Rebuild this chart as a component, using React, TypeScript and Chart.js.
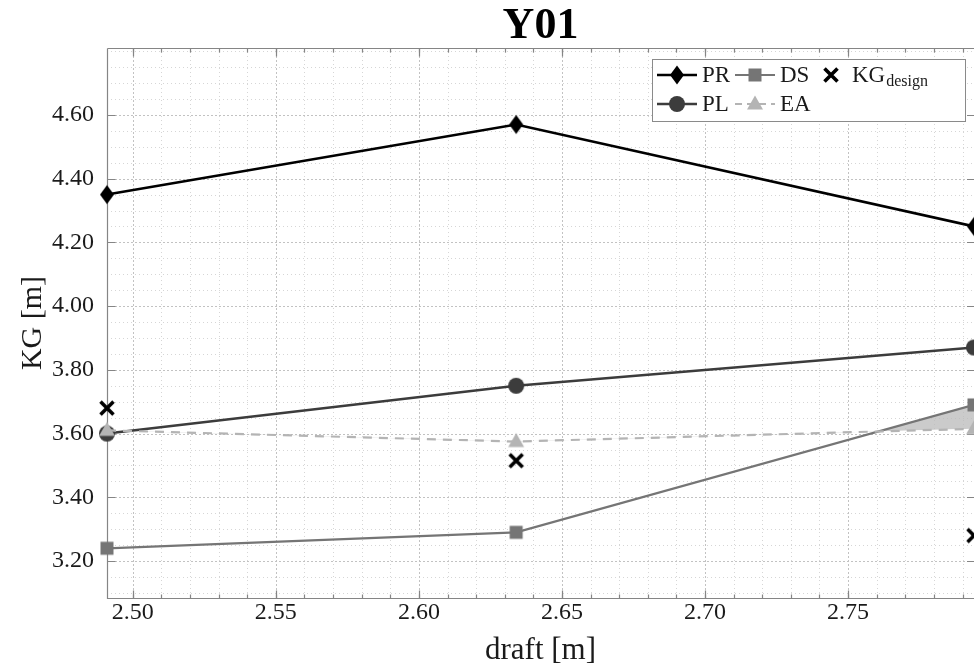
import React, { useEffect, useRef } from 'react';
import { Chart, registerables } from 'chart.js';

Chart.register(...registerables);

// ---------------- data ----------------
const draft = [2.491, 2.634, 2.794];
const PR = [4.35, 4.57, 4.25];
const PL = [3.6, 3.75, 3.87];
const DS = [3.24, 3.29, 3.69];
const EA = [3.61, 3.575, 3.615];
const KGdesign = [3.68, 3.515, 3.28];

const xTicks = [2.5, 2.55, 2.6, 2.65, 2.7, 2.75];
const yTicks = [3.2, 3.4, 3.6, 3.8, 4.0, 4.2, 4.4, 4.6];
const yMin = 3.084;
const yMax = 4.81;
const xMinorStep = 0.01;
const yMinorStep = 0.05;

const chartTitle = 'Y01';
const xTitle = 'draft [m]';
const yTitle = 'KG [m]';

// ---------------- styles ----------------
const FONT = "'Liberation Serif', 'Times New Roman', serif";
const TEXT = '#1a1a1a';

type Kind = 'diamond' | 'circle' | 'square' | 'triangle' | 'cross';

const seriesStyle = [
  { key: 'PR', data: PR, color: '#000000', marker: 'diamond' as Kind, width: 2.6, dash: [] as number[], order: 1, line: true },
  { key: 'PL', data: PL, color: '#3c3c3c', marker: 'circle' as Kind, width: 2.6, dash: [], order: 3, line: true },
  { key: 'DS', data: DS, color: '#757575', marker: 'square' as Kind, width: 2.2, dash: [], order: 4, line: true },
  { key: 'EA', data: EA, color: '#b4b4b4', marker: 'triangle' as Kind, width: 2.2, dash: [9, 7], order: 2, line: true },
  { key: 'KG', data: KGdesign, color: '#000000', marker: 'cross' as Kind, width: 0, dash: [], order: 0, line: false },
];

function drawMarker(ctx: CanvasRenderingContext2D, kind: Kind, x: number, y: number, color: string) {
  ctx.save();
  ctx.fillStyle = color;
  ctx.strokeStyle = color;
  ctx.setLineDash([]);
  ctx.beginPath();
  if (kind === 'diamond') {
    ctx.moveTo(x, y - 9.5);
    ctx.lineTo(x + 7, y);
    ctx.lineTo(x, y + 9.5);
    ctx.lineTo(x - 7, y);
    ctx.closePath();
    ctx.fill();
  } else if (kind === 'circle') {
    ctx.arc(x, y, 8, 0, Math.PI * 2);
    ctx.fill();
  } else if (kind === 'square') {
    ctx.rect(x - 6.5, y - 6.5, 13, 13);
    ctx.fill();
  } else if (kind === 'triangle') {
    ctx.moveTo(x, y - 8.5);
    ctx.lineTo(x + 8, y + 5.5);
    ctx.lineTo(x - 8, y + 5.5);
    ctx.closePath();
    ctx.fill();
  } else {
    ctx.lineWidth = 3.6;
    ctx.lineCap = 'butt';
    ctx.moveTo(x - 6.5, y - 6.5);
    ctx.lineTo(x + 6.5, y + 6.5);
    ctx.moveTo(x + 6.5, y - 6.5);
    ctx.lineTo(x - 6.5, y + 6.5);
    ctx.stroke();
  }
  ctx.restore();
}

function markerCanvas(kind: Kind, color: string): HTMLCanvasElement {
  const c = document.createElement('canvas');
  c.width = 24;
  c.height = 24;
  const ctx = c.getContext('2d')!;
  drawMarker(ctx, kind, 12, 12, color);
  return c;
}

const framePlugin = {
  id: 'framePlugin',
  beforeDraw(chart: any) {
    const { ctx, chartArea: a, scales } = chart;
    const xs = scales.x;
    const ys = scales.y;
    ctx.save();
    ctx.fillStyle = '#ffffff';
    ctx.fillRect(0, 0, chart.width, chart.height);

    // minor grid
    ctx.lineWidth = 1;
    ctx.strokeStyle = '#d6d6d6';
    ctx.setLineDash([1, 3]);
    const x0 = Math.ceil(xs.min / xMinorStep - 1e-6);
    const x1 = Math.floor(xs.max / xMinorStep + 1e-6);
    for (let i = x0; i <= x1; i++) {
      const px = Math.round(xs.getPixelForValue(i * xMinorStep)) + 0.5;
      ctx.beginPath();
      ctx.moveTo(px, a.top);
      ctx.lineTo(px, a.bottom);
      ctx.stroke();
    }
    const y0 = Math.ceil(ys.min / yMinorStep - 1e-6);
    const y1 = Math.floor(ys.max / yMinorStep + 1e-6);
    for (let i = y0; i <= y1; i++) {
      const py = Math.round(ys.getPixelForValue(i * yMinorStep)) + 0.5;
      ctx.beginPath();
      ctx.moveTo(a.left, py);
      ctx.lineTo(a.right, py);
      ctx.stroke();
    }

    // major grid
    ctx.strokeStyle = '#c2c2c2';
    ctx.setLineDash([2, 2]);
    for (const v of xTicks) {
      const px = Math.round(xs.getPixelForValue(v)) + 0.5;
      ctx.beginPath();
      ctx.moveTo(px, a.top);
      ctx.lineTo(px, a.bottom);
      ctx.stroke();
    }
    for (const v of yTicks) {
      const py = Math.round(ys.getPixelForValue(v)) + 0.5;
      ctx.beginPath();
      ctx.moveTo(a.left, py);
      ctx.lineTo(a.right, py);
      ctx.stroke();
    }

    // box
    ctx.setLineDash([]);
    ctx.strokeStyle = '#858585';
    ctx.lineWidth = 1.2;
    const L = Math.round(a.left) + 0.5;
    const R = Math.round(a.right) - 0.5;
    const T = Math.round(a.top) + 0.5;
    const B = Math.round(a.bottom) + 0.5;
    ctx.beginPath();
    ctx.moveTo(L, T);
    ctx.lineTo(L, B);
    ctx.lineTo(R + 2, B);
    ctx.moveTo(L, T);
    ctx.lineTo(R + 2, T);
    ctx.stroke();

    // tick marks (inward)
    ctx.lineWidth = 1.2;
    for (const v of xTicks) {
      const px = Math.round(xs.getPixelForValue(v)) + 0.5;
      ctx.beginPath();
      ctx.moveTo(px, B);
      ctx.lineTo(px, B - 8);
      ctx.moveTo(px, T);
      ctx.lineTo(px, T + 8);
      ctx.stroke();
    }
    for (let i = x0; i <= x1; i++) {
      const px = Math.round(xs.getPixelForValue(i * xMinorStep)) + 0.5;
      ctx.beginPath();
      ctx.moveTo(px, B);
      ctx.lineTo(px, B - 4);
      ctx.moveTo(px, T);
      ctx.lineTo(px, T + 4);
      ctx.stroke();
    }
    for (const v of yTicks) {
      const py = Math.round(ys.getPixelForValue(v)) + 0.5;
      ctx.beginPath();
      ctx.moveTo(L, py);
      ctx.lineTo(L + 8, py);
      ctx.moveTo(a.right, py);
      ctx.lineTo(a.right - 7, py);
      ctx.stroke();
    }
    ctx.restore();
  },
  afterDraw(chart: any) {
    const { ctx, chartArea: a } = chart;
    ctx.save();
    // title
    ctx.fillStyle = '#000';
    ctx.font = `bold 44px ${FONT}`;
    ctx.textAlign = 'center';
    ctx.textBaseline = 'middle';
    ctx.fillText(chartTitle, (a.left + a.right) / 2, 27);

    // legend
    const bx = 652, by = 59, bw = 313, bh = 62;
    ctx.fillStyle = '#ffffff';
    ctx.fillRect(bx, by, bw, bh);
    ctx.strokeStyle = '#8a8a8a';
    ctx.lineWidth = 1;
    ctx.strokeRect(bx + 0.5, by + 0.5, bw, bh);

    const rows = [75, 104];
    const entries = [
      { s: seriesStyle[0], x: 657, row: 0 },
      { s: seriesStyle[2], x: 735, row: 0 },
      { s: seriesStyle[1], x: 657, row: 1 },
      { s: seriesStyle[3], x: 735, row: 1 },
    ];
    ctx.font = `23px ${FONT}`;
    ctx.textAlign = 'left';
    ctx.textBaseline = 'middle';
    for (const e of entries) {
      const y = rows[e.row];
      ctx.strokeStyle = e.s.color;
      ctx.lineWidth = e.s.width;
      ctx.setLineDash(e.s.dash.length ? [7, 5] : []);
      ctx.beginPath();
      ctx.moveTo(e.x, y);
      ctx.lineTo(e.x + 40, y);
      ctx.stroke();
      ctx.setLineDash([]);
      drawMarker(ctx, e.s.marker, e.x + 20, y, e.s.color);
      ctx.fillStyle = TEXT;
      ctx.fillText(e.s.key, e.x + 45, y + 1);
    }
    // KG design entry
    drawMarker(ctx, 'cross', 831, rows[0], '#000');
    ctx.fillStyle = TEXT;
    ctx.font = `23px ${FONT}`;
    ctx.fillText('KG', 852, rows[0] + 1);
    const w = ctx.measureText('KG').width;
    ctx.font = `16px ${FONT}`;
    ctx.fillText('design', 852 + w + 1, rows[0] + 7);
    ctx.restore();
  },
};

export default function App() {
  const ref = useRef<HTMLCanvasElement>(null);

  useEffect(() => {
    if (!ref.current) return;
    const datasets = seriesStyle.map((s) => {
      const ds: any = {
        label: s.key,
        data: draft.map((x, i) => ({ x, y: s.data[i] })),
        borderColor: s.color,
        backgroundColor: s.color,
        borderWidth: s.width,
        borderDash: s.dash,
        showLine: s.line,
        tension: 0,
        pointStyle: markerCanvas(s.marker, s.color),
        pointRadius: 8,
        pointHoverRadius: 8,
        clip: false,
        order: s.order,
        fill: false,
      };
      if (s.key === 'DS') {
        ds.fill = { target: 3, above: 'rgba(185,185,185,0.75)', below: 'rgba(0,0,0,0)' };
      }
      return ds;
    });

    const chart = new Chart(ref.current, {
      type: 'line',
      data: { datasets },
      options: {
        animation: false,
        responsive: false,
        maintainAspectRatio: false,
        devicePixelRatio: 1,
        layout: { autoPadding: false, padding: { top: 48, left: 0, right: 0, bottom: 0 } },
        plugins: {
          legend: { display: false },
          title: { display: false },
          tooltip: { enabled: false },
        },
        events: [],
        scales: {
          x: {
            type: 'linear',
            min: draft[0],
            max: draft[draft.length - 1],
            afterBuildTicks: (s: any) => {
              s.ticks = xTicks.map((v) => ({ value: v }));
            },
            afterFit: (s: any) => {
              s.height = 72;
            },
            ticks: {
              callback: (v: any) => Number(v).toFixed(2),
              font: { family: FONT, size: 24 },
              color: TEXT,
              padding: 0,
              maxRotation: 0,
              autoSkip: false,
            },
            grid: { display: false, drawTicks: false },
            border: { display: false },
            title: {
              display: true,
              text: xTitle,
              font: { family: FONT, size: 31 },
              color: TEXT,
              padding: { top: 0, bottom: 1 },
            },
          },
          y: {
            type: 'linear',
            min: yMin,
            max: yMax,
            afterBuildTicks: (s: any) => {
              s.ticks = yTicks.map((v) => ({ value: v }));
            },
            afterFit: (s: any) => {
              s.width = 107;
            },
            ticks: {
              callback: (v: any) => Number(v).toFixed(2),
              font: { family: FONT, size: 24 },
              color: TEXT,
              padding: 13,
              autoSkip: false,
            },
            grid: { display: false, drawTicks: false },
            border: { display: false },
            title: {
              display: true,
              text: yTitle,
              font: { family: FONT, size: 30 },
              color: TEXT,
              padding: { top: 15, bottom: 0 },
            },
          },
        },
      },
      plugins: [framePlugin],
    } as any);
    return () => chart.destroy();
  }, []);

  return (
    <div style={{ position: 'absolute', left: 0, top: 0, width: 974, height: 670, background: '#fff' }}>
      <canvas ref={ref} width={974} height={670} style={{ display: 'block', width: 974, height: 670 }} />
    </div>
  );
}
